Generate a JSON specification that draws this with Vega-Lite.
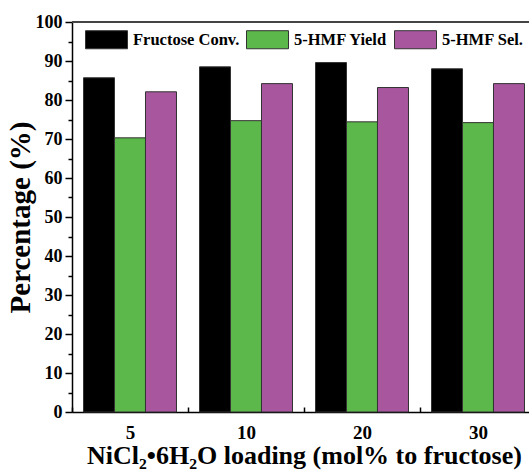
{
  "$schema": "https://vega.github.io/schema/vega-lite/v6.json",
  "width": 457,
  "height": 390,
  "autosize": {"type": "none"},
  "padding": {"left": 72, "top": 22, "right": 0, "bottom": 59},
  "background": "white",
  "config": {
    "view": {"stroke": null},
    "font": "Liberation Serif"
  },
  "data": {
    "values": [
      {"loading": "5", "series": "Fructose Conv.", "value": 85.7},
      {"loading": "5", "series": "5-HMF Yield", "value": 70.3},
      {"loading": "5", "series": "5-HMF Sel.", "value": 82.1},
      {"loading": "10", "series": "Fructose Conv.", "value": 88.5},
      {"loading": "10", "series": "5-HMF Yield", "value": 74.7},
      {"loading": "10", "series": "5-HMF Sel.", "value": 84.2},
      {"loading": "20", "series": "Fructose Conv.", "value": 89.6},
      {"loading": "20", "series": "5-HMF Yield", "value": 74.4},
      {"loading": "20", "series": "5-HMF Sel.", "value": 83.2},
      {"loading": "30", "series": "Fructose Conv.", "value": 88.0},
      {"loading": "30", "series": "5-HMF Yield", "value": 74.2},
      {"loading": "30", "series": "5-HMF Sel.", "value": 84.2}
    ]
  },
  "layer": [
    {
      "mark": {"type": "bar", "stroke": "#333333", "strokeWidth": 1},
      "encoding": {
        "x": {
          "field": "loading",
          "type": "nominal",
          "sort": ["5", "10", "20", "30"],
          "scale": {"range": [0, 464], "paddingInner": 0, "paddingOuter": 0},
          "axis": {
            "title": "NiCl₂•6H₂O loading (mol% to fructose)",
            "titleFont": "Liberation Serif",
            "titleFontWeight": "bold",
            "titleFontSize": 26,
            "titleColor": "black",
            "titlePadding": 0,
            "labelFont": "Liberation Serif",
            "labelFontWeight": "bold",
            "labelFontSize": 19,
            "labelColor": "black",
            "labelAngle": 0,
            "labelPadding": 16,
            "tickBand": "extent",
            "tickSize": -5,
            "tickColor": "black",
            "tickWidth": 1.5,
            "domainColor": "black",
            "domainWidth": 1.5
          }
        },
        "xOffset": {
          "field": "series",
          "type": "nominal",
          "sort": ["Fructose Conv.", "5-HMF Yield", "5-HMF Sel."],
          "scale": {"paddingInner": 0, "paddingOuter": 0.371}
        },
        "y": {
          "field": "value",
          "type": "quantitative",
          "scale": {"domain": [0, 100], "nice": false},
          "axis": {
            "title": "Percentage (%)",
            "titleFont": "Liberation Serif",
            "titleFontWeight": "bold",
            "titleFontSize": 29,
            "titleColor": "black",
            "titlePadding": 0,
            "values": [0, 5, 10, 15, 20, 25, 30, 35, 40, 45, 50, 55, 60, 65, 70, 75, 80, 85, 90, 95, 100],
            "labelExpr": "datum.value % 10 === 0 ? datum.label : ''",
            "labelOverlap": false,
            "labelFont": "Liberation Serif",
            "labelFontWeight": "bold",
            "labelFontSize": 18,
            "labelColor": "black",
            "labelPadding": 3,
            "tickSize": {"condition": {"test": "datum.value % 10 === 0", "value": 7}, "value": 4},
            "tickColor": "black",
            "tickWidth": 1.5,
            "domainColor": "black",
            "domainWidth": 1.5,
            "grid": false
          }
        },
        "fill": {
          "field": "series",
          "type": "nominal",
          "sort": ["Fructose Conv.", "5-HMF Yield", "5-HMF Sel."],
          "scale": {
            "domain": ["Fructose Conv.", "5-HMF Yield", "5-HMF Sel."],
            "range": ["#000000", "#5cb84a", "#a8579f"]
          },
          "legend": {
            "title": null,
            "orient": "none",
            "direction": "horizontal",
            "legendX": 13,
            "legendY": -4,
            "padding": 0,
            "columnPadding": 4,
            "symbolType": "M-1,-0.43H1V0.43H-1Z",
            "symbolSize": 1764,
            "symbolStrokeColor": "#333333",
            "symbolStrokeWidth": 1,
            "symbolOpacity": 1,
            "labelFont": "Liberation Serif",
            "labelFontWeight": "bold",
            "labelFontSize": 16.5,
            "labelColor": "black",
            "labelOffset": 5
          }
        }
      }
    },
    {
      "mark": {"type": "rule", "color": "#444444", "strokeWidth": 1.5},
      "encoding": {
        "y": {
          "datum": 100,
          "type": "quantitative",
          "axis": {
            "title": "Percentage (%)",
            "titleFont": "Liberation Serif",
            "titleFontWeight": "bold",
            "titleFontSize": 29,
            "titleColor": "black",
            "titlePadding": 0,
            "values": [0, 5, 10, 15, 20, 25, 30, 35, 40, 45, 50, 55, 60, 65, 70, 75, 80, 85, 90, 95, 100],
            "labelExpr": "datum.value % 10 === 0 ? datum.label : ''",
            "labelOverlap": false,
            "labelFont": "Liberation Serif",
            "labelFontWeight": "bold",
            "labelFontSize": 18,
            "labelColor": "black",
            "labelPadding": 3,
            "tickSize": {"condition": {"test": "datum.value % 10 === 0", "value": 7}, "value": 4},
            "tickColor": "black",
            "tickWidth": 1.5,
            "domainColor": "black",
            "domainWidth": 1.5,
            "grid": false
          }
        }
      }
    }
  ]
}
